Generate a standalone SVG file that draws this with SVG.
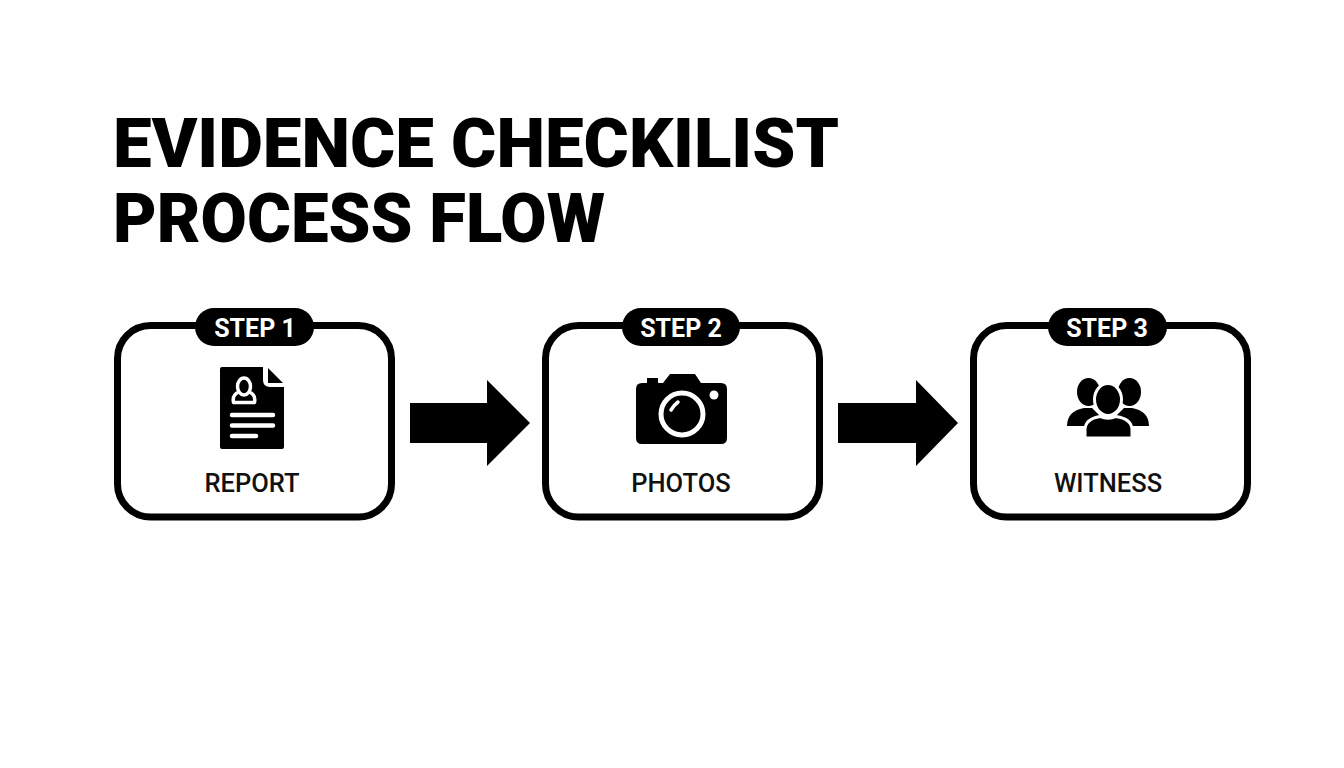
<svg xmlns="http://www.w3.org/2000/svg" width="1344" height="768" viewBox="0 0 1344 768">
<style>
.title{font:900 69px Roboto,"Liberation Sans",sans-serif;fill:#000}
.box{fill:#fff;stroke:#000;stroke-width:7}
.pill{fill:#000}
.step{font:700 25px Roboto,"Liberation Sans",sans-serif;fill:#fff;text-anchor:middle}
.label{font:500 25.500px Roboto,"Liberation Sans",sans-serif;fill:#111;text-anchor:middle}
.w{fill:none;stroke:#fff;stroke-linecap:round;stroke-linejoin:round}
</style>
<rect width="1344" height="768" fill="#fefefe"/>
<g id="title"><text class="title" x="113" y="167" textLength="726" lengthAdjust="spacingAndGlyphs">EVIDENCE CHECKILIST</text><text class="title" x="113" y="242" textLength="492" lengthAdjust="spacingAndGlyphs">PROCESS FLOW</text></g>
<g id="connectors">
<path id="arrow-1" d="M410 403H487V380L530 423L487 466V443H410Z"/>
<path id="arrow-2" d="M838 403H916V380L958 423L916 466V443H838Z"/>
</g>
<g id="step-1">
<rect class="box" x="117.500" y="325.500" width="274" height="191.500" rx="33"/>
<rect class="pill" x="195" y="308" width="119" height="38" rx="19"/>
<text class="step" x="255" y="336.500">STEP 1</text>
<path d="M222 367H263V380Q263 387 270 387H284V447Q284 449 282 449H222Q220 449 220 447V369Q220 367 222 367Z"/>
<path d="M268 368L283 383H268Z"/>
<ellipse class="w" cx="244" cy="386.500" rx="6.500" ry="8.500" stroke-width="3.500"/>
<path class="w" stroke-width="3.500" d="M238.500 392Q232 395 233.500 402.500H254.500Q256 395 249.500 392"/>
<path class="w" stroke-width="4.500" d="M232 415H273M232 425.500H273M232 436H256"/>
<text class="label" x="252" y="492">REPORT</text>
</g>
<g id="step-2">
<rect class="box" x="545.500" y="325.500" width="274" height="191.500" rx="33"/>
<rect class="pill" x="622" y="308" width="118" height="38" rx="19"/>
<text class="step" x="681" y="336.500">STEP 2</text>
<path d="M647 383V378H658V383H663L670 374H695L701 383H721Q727 383 727 389V438Q727 444 721 444H642Q636 444 636 438V389Q636 383 642 383Z"/>
<circle class="w" cx="682" cy="414" r="21" stroke-width="5"/>
<circle cx="714" cy="395" r="4.500" fill="#fff"/>
<path class="w" stroke-width="3.500" d="M671 410Q674 405 678 402"/>
<text class="label" x="681" y="492">PHOTOS</text>
</g>
<g id="step-3">
<rect class="box" x="973.500" y="325.500" width="274" height="191.500" rx="33"/>
<rect class="pill" x="1048" y="308" width="119" height="38" rx="19"/>
<text class="step" x="1107" y="336.500">STEP 3</text>
<ellipse cx="1088.500" cy="392" rx="11.500" ry="14"/>
<ellipse cx="1129.500" cy="392" rx="11.500" ry="14"/>
<path d="M1067 426Q1067 411 1084 408H1092L1110 426ZM1149 426Q1149 411 1132 408H1124L1106 426Z"/>
<ellipse cx="1108" cy="399.500" rx="13.500" ry="16" stroke="#fff" stroke-width="3"/>
<path d="M1085 438V430Q1085 419 1100 416.500Q1108 420 1116 416.500Q1132 419 1132 430V438Z" stroke="#fff" stroke-width="3"/>
<text class="label" x="1108" y="492">WITNESS</text>
</g>
</svg>
